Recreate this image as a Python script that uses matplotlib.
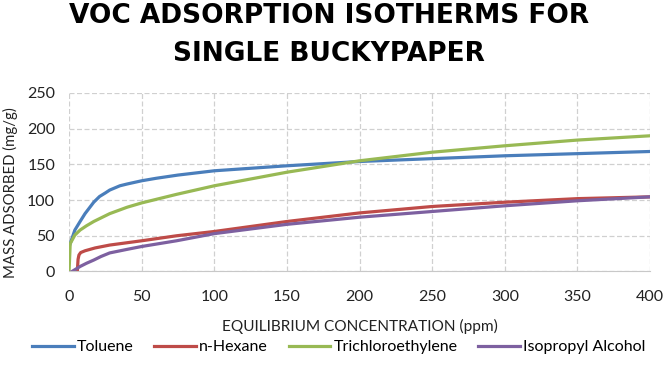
import matplotlib
matplotlib.use("Agg")
import matplotlib.pyplot as plt

# Values (x = ppm, y = mg/g)
toluene_x = [0.8, 4, 7.6, 11, 14, 17, 21, 25, 28, 35, 40, 50, 60, 75, 100, 150, 200, 250, 300, 350, 400]
toluene_y = [39, 58, 70, 81, 89, 97, 105, 110, 114, 120, 122.5, 127, 130.5, 135, 141, 148, 154, 158, 162, 165, 168]

hexane_x = [5.7, 6.2, 6.8, 8, 11, 18, 28, 50, 74, 100, 150, 200, 250, 300, 350, 400]
hexane_y = [0, 17, 23, 26.5, 29, 33, 37, 43, 50, 56, 70, 82, 91, 97, 102, 104.5]

tce_x = [0, 0.8, 4, 7.6, 12, 17, 28, 40, 50, 74, 100, 150, 200, 250, 300, 350, 400]
tce_y = [0, 39, 51, 58, 64, 70, 81, 90, 96, 108, 120, 139, 155, 167, 176, 184, 190]

ipa_x = [2, 7.6, 12, 17, 22, 28, 40, 50, 74, 100, 150, 200, 250, 300, 350, 400]
ipa_y = [0, 7, 11.5, 16, 21, 26, 31, 35, 43, 53, 66, 76, 84, 92, 99, 104.5]

series = [
    ("Toluene", toluene_x, toluene_y, "#4a7ebb"),
    ("n-Hexane", hexane_x, hexane_y, "#be4b48"),
    ("Trichloroethylene", tce_x, tce_y, "#98b954"),
    ("Isopropyl Alcohol", ipa_x, ipa_y, "#7d60a0"),
]

x_ticks = [0, 50, 100, 150, 200, 250, 300, 350, 400]
y_ticks = [0, 50, 100, 150, 200, 250]

plt.rcParams['font.family'] = ['Lato', 'DejaVu Sans']

fig = plt.figure(figsize=(6.64, 3.84), dpi=100)
ax = fig.add_axes([0.104, 0.293, 0.875, 0.465])

lines = []
for name, xs, ys, color in series:
    ln, = ax.plot(xs, ys, color=color, lw=2.3, label=name, solid_joinstyle='round')
    lines.append(ln)

ax.set_xlim(0, 400)
ax.set_ylim(0, 250)
ax.set_xticks(x_ticks)
ax.set_yticks(y_ticks)
ax.grid(True, color='#d0d0d0', ls=(0, (4, 2)), lw=0.9)
ax.set_axisbelow(True)
for side in ['top', 'right', 'left']:
    ax.spines[side].set_visible(False)
ax.spines['bottom'].set_color('#c8c8c8')
ax.tick_params(length=0, labelsize=11.5, colors='#222222')
ax.tick_params(axis='x', pad=13)
ax.tick_params(axis='y', pad=10)

ax.set_xlabel("EQUILIBRIUM CONCENTRATION (ppm)", fontsize=11.1, color='#222222', labelpad=11)
ax.set_ylabel("MASS ADSORBED (mg/g)", fontsize=10.7, color='#222222')
ax.yaxis.set_label_coords(-0.088, 0.44)

fig.text(0.495, 0.94, "VOC ADSORPTION ISOTHERMS FOR", ha='center', va='baseline',
         fontsize=19, fontweight='bold', family='DejaVu Sans')
fig.text(0.495, 0.842, "SINGLE BUCKYPAPER", ha='center', va='baseline',
         fontsize=19, fontweight='bold', family='DejaVu Sans')

fig.legend(handles=lines, loc='center', bbox_to_anchor=(0.51, 0.096), ncol=4,
           frameon=False, fontsize=11.5, handlelength=2.6, handletextpad=0.2,
           columnspacing=1.3)

fig.savefig("out.png", dpi=100)
